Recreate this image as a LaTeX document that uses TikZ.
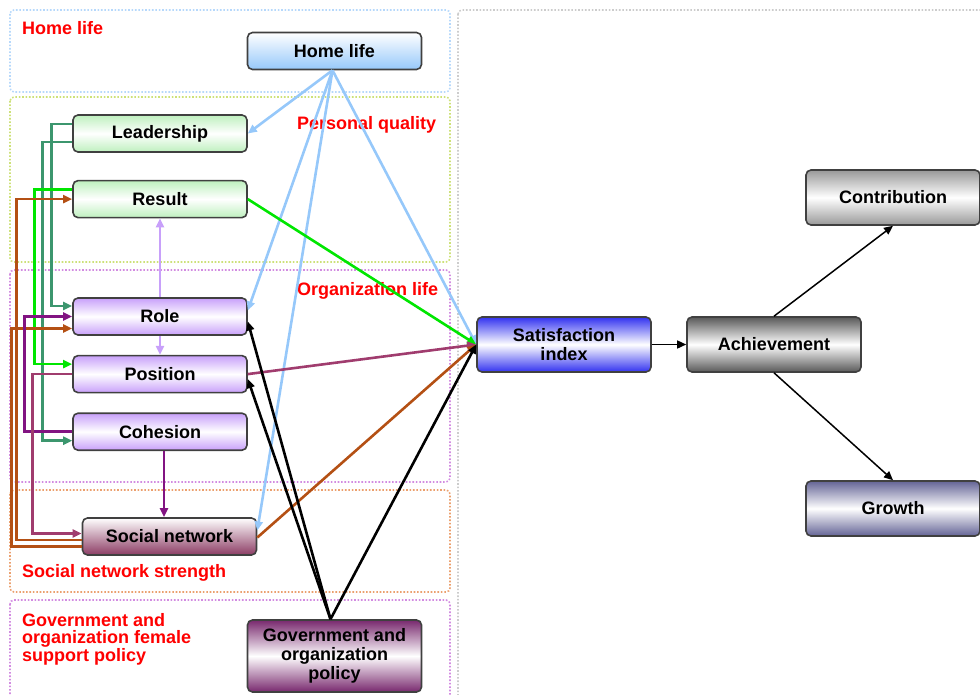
\documentclass[tikz,border=0pt]{standalone}
\usepackage{fontspec}
\setmainfont{Liberation Sans}
\usetikzlibrary{positioning,arrows.meta}
\definecolor{homeblue}{RGB}{150,200,250}
\definecolor{leafgreen}{RGB}{190,240,190}
\definecolor{lilac}{RGB}{200,160,250}
\definecolor{wine}{RGB}{140,60,100}
\definecolor{plum}{RGB}{120,40,110}
\definecolor{satblue}{RGB}{50,50,240}
\definecolor{slate}{RGB}{100,100,150}
\definecolor{teal}{RGB}{60,150,110}
\definecolor{brightgreen}{RGB}{0,230,0}
\definecolor{rust}{RGB}{180,80,20}
\definecolor{grape}{RGB}{130,20,130}
\definecolor{mauve}{RGB}{160,60,110}
\definecolor{paleolive}{RGB}{205,225,120}
\definecolor{paleorange}{RGB}{235,160,110}
\definecolor{paleviolet}{RGB}{210,140,225}

\begin{document}
\begin{tikzpicture}[x=1pt,y=-1pt,>={Triangle[length=9pt,width=8pt]},
  font=\fontsize{18}{19}\selectfont\bfseries,
  box/.style={draw=black!75,line width=1.6pt,rounded corners=5pt,minimum width=174pt,minimum height=37pt,align=center,inner sep=1pt},
  frame/.style={line width=1.6pt,dash pattern=on 1.6pt off 1.8pt,rounded corners=4pt},
  lbl/.style={text=red,anchor=west,align=left,inner sep=0pt},
  link/.style={->,line width=2.6pt}]
\useasboundingbox (0,0) rectangle (980,695);
\clip (0,0) rectangle (980,695);

% frames
\draw[frame,homeblue!70] (10,10) rectangle (450,92);
\draw[frame,paleolive] (10,97) rectangle (450,262);
\draw[frame,paleviolet] (10,270) rectangle (450,482);
\draw[frame,paleorange] (10,490) rectangle (450,592);
\draw[frame,paleviolet] (10,600) rectangle (450,710);
\draw[frame,gray!40] (458,10) rectangle (995,710);

\node[lbl] (homelbl) at (22,28) {Home life};
\node[lbl] (qualbl) at (297,125) {Personal quality};
\node[lbl] (orglbl) at (297,291) {Organization life};
\node[lbl] (netlbl) at (22,573) {Social network strength};
\node[lbl,anchor=north west,font=\fontsize{18}{17.5}\selectfont\bfseries] (govlbl) at (22,613) {Government and\\organization female\\support policy};

% boxes
\node[box,top color=white,bottom color=homeblue] (home) at (334.5,51) {Home life};
\node[box,top color=leafgreen,bottom color=leafgreen,middle color=white] (lead) at (160,133.5) {Leadership};
\node[box,top color=leafgreen,bottom color=leafgreen,middle color=white,below=27pt of lead] (res) {Result};
\node[box,top color=lilac,bottom color=lilac,middle color=white] (role) at (160,316.5) {Role};
\node[box,top color=lilac,bottom color=lilac,middle color=white,below=19pt of role] (pos) {Position};
\node[box,top color=lilac,bottom color=lilac,middle color=white,below=19pt of pos] (coh) {Cohesion};
\node[box,top color=white,bottom color=wine] (soc) at (169.5,536.5) {Social network};
\node[box,top color=plum,bottom color=plum,middle color=white,minimum height=72pt] (gov) at (334.5,656) {Government and\\organization\\policy};
\node[box,top color=satblue,bottom color=satblue,middle color=white,minimum height=55pt] (sat) at (564,344.5) {Satisfaction\\index};
\node[box,top color=black!65,bottom color=black!65,middle color=white,minimum height=55pt] (ach) at (774,344.5) {Achievement};
\node[box,top color=black!40,bottom color=black!40,middle color=white,minimum height=55pt] (cont) at (893,197.5) {Contribution};
\node[box,top color=slate,bottom color=slate,middle color=white,minimum height=55pt] (grow) at (893,508.5) {Growth};

% home life
\draw[link,homeblue] ([xshift=-2pt]home.south) -- (lead.east);
\draw[link,homeblue] ([xshift=-2pt]home.south) -- ([yshift=6pt]role.east);
\draw[link,homeblue] ([xshift=-2pt]home.south) -- ([yshift=6pt]soc.east);
\draw[link,homeblue] ([xshift=-2pt]home.south) -- (sat.west);

% left routing
\draw[link,teal] ([yshift=9.5pt]lead.west) -- ++(-21,0) |- ([yshift=10.5pt]role.west);
\draw[link,teal] ([yshift=-8.5pt]lead.west) -- ++(-30,0) |- ([yshift=-9pt]coh.west);
\draw[link,brightgreen] ([yshift=9.5pt]res.west) -- ++(-38,0) |- ([yshift=10pt]pos.west);
\draw[link,rust] ([yshift=-3.5pt]soc.west) -- ++(-65,0) |- (res.west);
\draw[link,rust] ([yshift=-10pt]soc.west) -- ++(-70,0) |- ([yshift=-12pt]role.west);
\draw[link,grape] (coh.west) -- ++(-48,0) |- (role.west);
\draw[link,mauve] (pos.west) -- ++(-40,0) |- ([yshift=3pt]soc.west);
\draw[link,lilac] (role.north) -- (res.south);
\draw[link,lilac] (role.south) -- (pos.north);
\draw[link,grape] ([xshift=4pt]coh.south) -- ([xshift=4pt]coh.south |- soc.north);

% into satisfaction
\draw[link,brightgreen] (res.east) -- (sat.west);
\draw[link,mauve] (pos.east) -- (sat.west);
\draw[link,rust] ([yshift=-1pt]soc.east) -- (sat.west);
\draw[link,black] ([xshift=-4pt]gov.north) -- (sat.west);
\draw[link,black] ([xshift=-4pt]gov.north) -- ([yshift=-5pt]role.east);
\draw[link,black] ([xshift=-4pt]gov.north) -- ([yshift=-5pt]pos.east);

% outcome
\draw[->,line width=1.5pt] (sat) -- (ach);
\draw[->,line width=1.5pt] (ach.north) -- (cont.south);
\draw[->,line width=1.5pt] (ach.south) -- (grow.north);
\end{tikzpicture}
\end{document}
